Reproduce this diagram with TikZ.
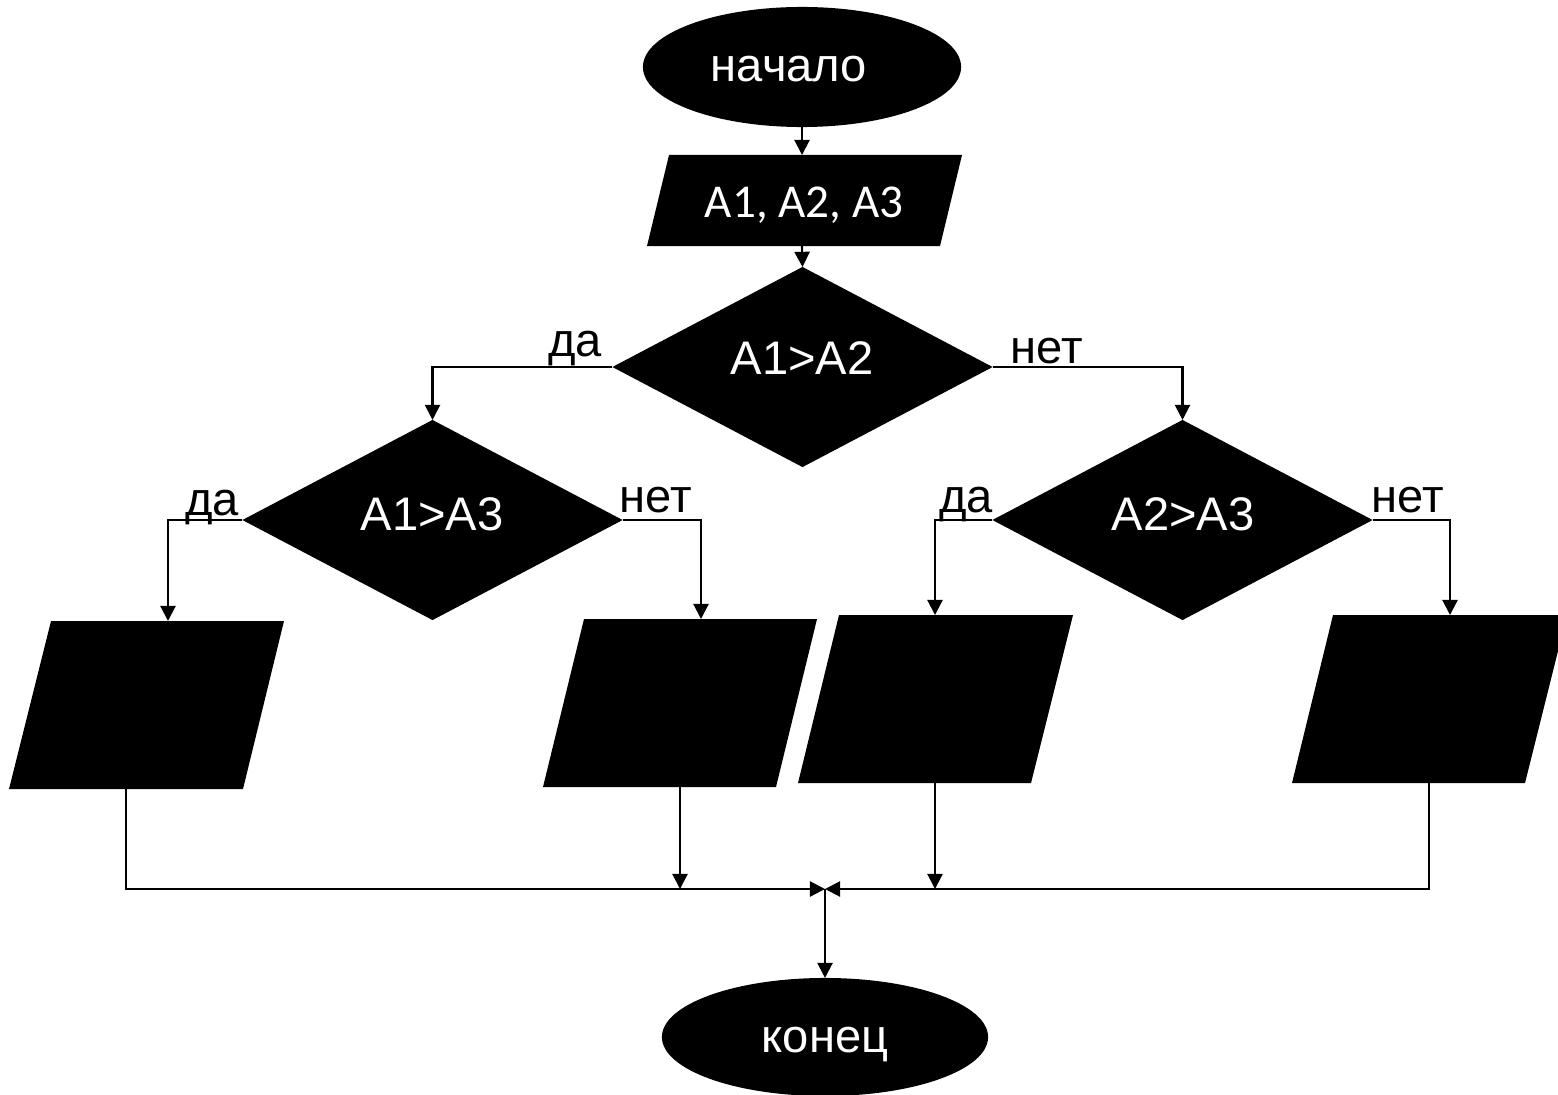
\documentclass[tikz,border=0pt]{standalone}
\usepackage{fontspec}
\setmainfont{Liberation Sans}
\newfontfamily\carl{Carlito}
\usetikzlibrary{shapes.geometric,arrows.meta}
\begin{document}
\begin{tikzpicture}[x=0.01cm,y=-0.01cm,
  font=\fontsize{13.4}{16}\selectfont,
  term/.style={ellipse, fill=black, inner sep=0pt, outer sep=0pt},
  dec/.style={diamond, fill=black, inner sep=0pt, outer sep=0pt, minimum width=3.8cm, minimum height=2cm},
  iofill/.style={fill=black},
  wtext/.style={text=white, anchor=base, inner sep=0pt},
  conn/.style={line width=0.6pt, -{Triangle[length=4.3pt,width=4.3pt]}},
  lab/.style={anchor=base, inner sep=0pt}
]
\useasboundingbox (0,0) rectangle (1558,1094);
\clip (0,0) rectangle (1558,1094);

% terminals
\node[term, minimum width=3.18cm, minimum height=1.2cm] (start) at (802,67) {};
\node[wtext] (tstart) at (789,82) {начало};
\node[term, minimum width=3.26cm, minimum height=1.18cm] (end) at (825,1037) {};
\node[wtext] (tend) at (825,1052) {конец};

% input parallelogram
\fill[iofill] (669,155) -- (962,155) -- (940,246) -- (647,246) -- cycle;
\node[wtext, font=\carl\fontsize{13.4}{16}\selectfont] (inp) at (804,218) {A1, A2, A3};
\coordinate (p1in) at (802,155);
\coordinate (p1out) at (802,246);

% decisions
\node[dec] (d1) at (802.5,367) {};
\node[wtext] (t1) at (802,374) {A1>A2};
\node[dec] (d2) at (432.5,520) {};
\node[wtext] (t2) at (432,530) {A1>A3};
\node[dec] (d3) at (1182.5,520) {};
\node[wtext] (t3) at (1183,530) {A2>A3};

% output parallelograms
\fill[iofill] (51,621) -- (284,621) -- (243,789) -- (9,789) -- cycle;
\fill[iofill] (584,619) -- (817,619) -- (776,787) -- (543,787) -- cycle;
\fill[iofill] (839,615) -- (1073,615) -- (1031,783) -- (798,783) -- cycle;
\fill[iofill] (1333,615) -- (1567,615) -- (1525,783) -- (1292,783) -- cycle;
\coordinate (pAin) at (168,621);  \coordinate (pAout) at (126,789);
\coordinate (pBin) at (701,619);  \coordinate (pBout) at (680,787);
\coordinate (pCin) at (935,615);  \coordinate (pCout) at (935,783);
\coordinate (pDin) at (1450,615); \coordinate (pDout) at (1429,783);
\coordinate (m) at (825,889);

% labels
\node[lab] (l1) at (575,356) {да};
\node[lab] (l2) at (1047,363) {нет};
\node[lab] (l3) at (212,515) {да};
\node[lab] (l4) at (656,512) {нет};
\node[lab] (l5) at (966,512) {да};
\node[lab] (l6) at (1408,512) {нет};

% connectors
\draw[conn] (start.south) -- (p1in);
\draw[conn] (p1out) -- (d1.north);
\draw[conn] (d1.west) -| (d2.north);
\draw[conn] (d1.east) -| (d3.north);
\draw[conn] (d2.west) -| (pAin);
\draw[conn] (d2.east) -| (pBin);
\draw[conn] (d3.west) -| (pCin);
\draw[conn] (d3.east) -| (pDin);
\draw[conn] (pAout) |- (m);
\draw[conn] (pDout) |- (m);
\draw[conn] (pBout) -- (pBout |- m);
\draw[conn] (pCout) -- (pCout |- m);
\draw[conn] (m) -- (end.north);
\end{tikzpicture}
\end{document}
